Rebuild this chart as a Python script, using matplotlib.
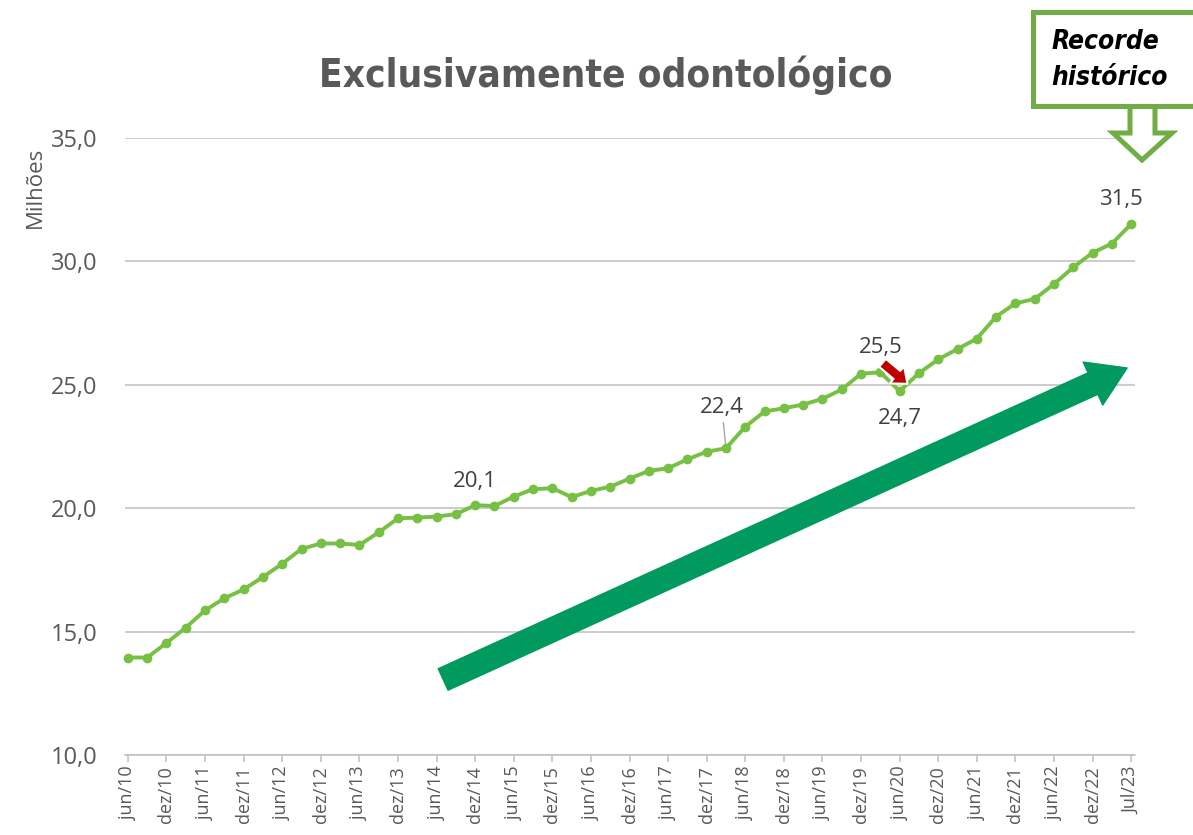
import numpy as np
import matplotlib
matplotlib.use('Agg')
import matplotlib.pyplot as plt
from matplotlib import font_manager as fm
from matplotlib.patches import Rectangle, Polygon

plt.rcParams['font.family'] = ['Open Sans', 'DejaVu Sans']

# quarterly values (millions), jun/10 ... mar/23, then jul/23
values = [13.95, 13.95, 14.54, 15.16, 15.86, 16.35, 16.71, 17.21, 17.75, 18.35,
          18.57, 18.57, 18.51, 19.02, 19.59, 19.62, 19.66, 19.76, 20.12, 20.09,
          20.47, 20.77, 20.81, 20.45, 20.70, 20.87, 21.20, 21.51, 21.62, 21.98,
          22.29, 22.43, 23.30, 23.92, 24.05, 24.20, 24.43, 24.81, 25.45, 25.51,
          24.74, 25.47, 26.03, 26.45, 26.87, 27.76, 28.30, 28.48, 29.08, 29.76,
          30.35, 30.72, 31.51]

tick_labels = ['jun/10', 'dez/10', 'jun/11', 'dez/11', 'jun/12', 'dez/12', 'jun/13',
               'dez/13', 'jun/14', 'dez/14', 'jun/15', 'dez/15', 'jun/16', 'dez/16',
               'jun/17', 'dez/17', 'jun/18', 'dez/18', 'jun/19', 'dez/19', 'jun/20',
               'dez/20', 'jun/21', 'dez/21', 'jun/22', 'dez/22', 'Jul/23']

y_ticks = [10, 15, 20, 25, 30, 35]

# labelled points: index, text, offset in points
labels = [(18, '20,1', (0, 17)),
          (31, '22,4', (-3, 29)),
          (39, '25,5', (0, 18)),
          (40, '24,7', (0, -20)),
          (52, '31,5', (-7, 18))]

line_color = '#76C043'
grey_txt = '#595959'
grid_color = '#BFBFBF'

# pick a condensed face if one is installed
narrow = None
for f in fm.fontManager.ttflist:
    if f.stretch in ('condensed', 'semi-condensed', 'extra-condensed') or \
       'Condensed' in f.name or 'Narrow' in f.name:
        narrow = f.name
        break
title_family = [narrow, 'DejaVu Sans'] if narrow else ['DejaVu Sans']

x = np.arange(len(values))

fig = plt.figure(figsize=(11.93, 8.35), dpi=100)
ax = fig.add_axes([125 / 1193, 1 - 755 / 835, 1010 / 1193, 617 / 835])

ax.set_xlim(-0.15, 52.2)
ax.set_ylim(10, 35)

ax.set_yticks(y_ticks)
ax.set_yticklabels([f'{v:.1f}'.replace('.', ',') for v in y_ticks])
ax.yaxis.grid(True, color=grid_color, lw=1.1)
ax.set_axisbelow(True)
ax.tick_params(axis='y', length=0, pad=20, labelsize=17, labelcolor=grey_txt)

ax.set_xticks(x[::2])
ax.set_xticklabels(tick_labels, rotation=90)
ax.tick_params(axis='x', length=5, width=1.1, color=grid_color, pad=3,
               labelsize=13, labelcolor=grey_txt)

for s in ['top', 'right', 'left']:
    ax.spines[s].set_visible(False)
ax.spines['bottom'].set_color(grid_color)
ax.spines['bottom'].set_linewidth(1.1)

ax.set_ylabel('Milhões', fontsize=16, color=grey_txt)
ax.yaxis.set_label_coords(-0.078, 0.92)

# main series
ax.plot(x, values, color=line_color, lw=2.8, marker='o', markersize=6,
        clip_on=False, zorder=3)

# data labels
for i, txt, off in labels:
    props = None
    if txt == '22,4':
        props = dict(arrowstyle='-', color='#A6A6A6', lw=1, shrinkA=1, shrinkB=3)
    ax.annotate(txt, xy=(x[i], values[i]), xytext=off, textcoords='offset points',
                ha='center', va='center', fontsize=16, color='#404040',
                arrowprops=props, zorder=5)

# big green trend arrow
ax.annotate('', xy=(51.79, 25.68), xytext=(16.34, 13.06),
            arrowprops=dict(arrowstyle='simple,head_length=1.35,head_width=1.7,tail_width=0.85',
                            mutation_scale=20, color='#009A5E', shrinkA=0, shrinkB=0),
            zorder=2)

# small red arrow pointing to the dip
ax.annotate('', xy=(40.41, 25.04), xytext=(39.11, 25.89),
            arrowprops=dict(arrowstyle='simple,head_length=1.0,head_width=1.6,tail_width=0.75',
                            mutation_scale=10, fc='#C00000', ec='white', lw=1.5,
                            shrinkA=0, shrinkB=0),
            zorder=6)

# title
title = fig.text(606 / 1193, 1 - 75 / 835, 'Exclusivamente odontológico',
                 ha='center', va='center', fontsize=34, fontweight='bold',
                 fontstretch='condensed', color=grey_txt, family=title_family)

# "Recorde histórico" callout
def px(xp, yp):
    return (xp / 1193, 1 - yp / 835)

green = '#70AD47'
arrow_pts = [px(1130, 95), px(1130, 133), px(1113, 133), px(1142, 160),
             px(1172, 133), px(1155, 133), px(1155, 95)]
fig.patches.append(Polygon(arrow_pts, closed=True, fc='white', ec=green, lw=3.6,
                           transform=fig.transFigure, figure=fig, zorder=1))
bx, by = px(1033, 106)
fig.patches.append(Rectangle((bx, by), 0.3, 94 / 835, fc='white', ec=green, lw=3.6,
                             transform=fig.transFigure, figure=fig, zorder=2))
callout = fig.text(1051 / 1193, 1 - 60 / 835, 'Recorde\nhistórico', ha='left', va='center',
                   fontsize=22, fontweight='bold', fontstyle='italic', color='black',
                   fontstretch='condensed', linespacing=1.5, family=title_family, zorder=3)

# fit the title and callout widths to the reference
fig.canvas.draw()
r = fig.canvas.get_renderer()
w = title.get_window_extent(r).width
title.set_fontsize(34 * min(1.0, 575 / w))
w = callout.get_window_extent(r).width
callout.set_fontsize(22 * min(1.0, 116 / w))

fig.savefig('out.png', dpi=100)
